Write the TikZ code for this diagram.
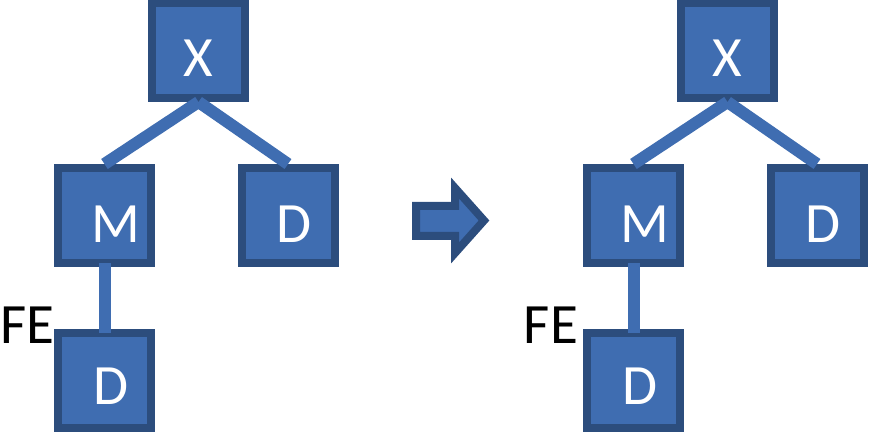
\documentclass[tikz,border=0pt]{standalone}
\usepackage{fontspec}
\setmainfont{Carlito}
\definecolor{boxfill}{HTML}{3F6DB1}
\definecolor{boxedge}{HTML}{2C4D7D}
\tikzset{
  x=1pt,y=1pt,
  treebox/.style={draw=boxedge, fill=boxfill, line width=8pt, minimum width=93pt, minimum height=95pt, inner sep=0pt},
  boxtext/.style={text=white, font=\fontsize{57}{60}\selectfont, inner sep=0pt},
  edge/.style={draw=boxfill, line width=12pt},
  fetext/.style={text=black, font=\fontsize{57}{60}\selectfont, inner sep=0pt},
}
\begin{document}
\begin{tikzpicture}
\useasboundingbox (0,0) rectangle (869,431);
% left tree
\node[treebox, label={[boxtext, xshift=0pt, yshift=-8pt]center:X}] (xl) at (198.5,380.5) {};
\node[treebox, label={[boxtext, xshift=11.5pt, yshift=-8.5pt]center:M}] (ml) at (104.5,215.5) {};
\node[treebox, label={[boxtext, xshift=6pt, yshift=-8.5pt]center:D}] (drl) at (288,215.5) {};
\node[treebox, label={[boxtext, xshift=6.5pt, yshift=-6pt]center:D}] (dl) at (104.5,51) {};
\node[fetext, anchor=west] (fel) at (0.5,106) {FE};
\draw[edge] (xl.south) -- (ml.north);
\draw[edge] (xl.south) -- (drl.north);
\draw[edge, shorten <=-4pt, shorten >=-4pt] (ml.south) -- (dl.north);
% arrow
\draw[draw=boxedge, fill=boxfill, line width=8pt]
  (416,225) -- (455,225) -- (455,243) -- (484,210.5) -- (455,178) -- (455,195) -- (416,195) -- cycle;
% right tree
\begin{scope}[xshift=529pt]
\node[treebox, label={[boxtext, xshift=0pt, yshift=-8pt]center:X}] (xr) at (198.5,380.5) {};
\node[treebox, label={[boxtext, xshift=11.5pt, yshift=-8.5pt]center:M}] (mr) at (104.5,215.5) {};
\node[treebox, label={[boxtext, xshift=6pt, yshift=-8.5pt]center:D}] (drr) at (288,215.5) {};
\node[treebox, label={[boxtext, xshift=6.5pt, yshift=-6pt]center:D}] (dr) at (104.5,51) {};
\node[fetext] (fer) at (22,106) {FE};
\draw[edge] (xr.south) -- (mr.north);
\draw[edge] (xr.south) -- (drr.north);
\draw[edge, shorten <=-4pt, shorten >=-4pt] (mr.south) -- (dr.north);
\end{scope}
\end{tikzpicture}
\end{document}
